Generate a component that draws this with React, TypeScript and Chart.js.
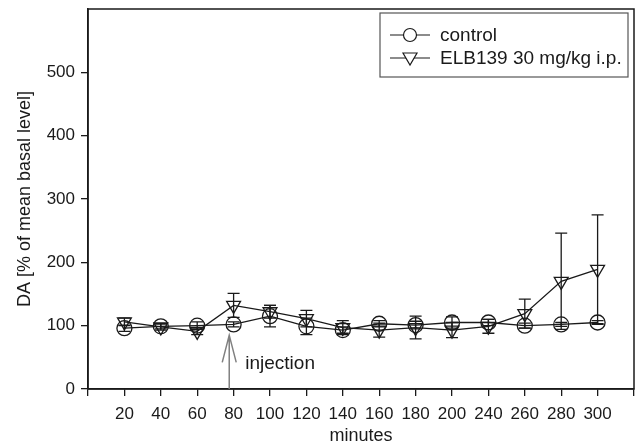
import React, { useEffect, useRef } from "react";
import { Chart, registerables } from "chart.js";

Chart.register(...registerables);

const categories = ["20", "40", "60", "80", "100", "120", "140", "160", "180", "200", "240", "260", "280", "300"];
const controlValues = [96, 99, 100, 102, 115, 99, 93, 103, 101, 105, 105, 100, 102, 105];
const controlErrors = [5, 4, 6, 4, 17, 13, 5, 5, 6, 9, 5, 4, 3, 3];
const elbValues = [106, 98, 91, 132, 122, 111, 97, 93, 97, 93, 99, 119, 170, 189];
const elbErrors = [6, 5, 5, 19, 10, 13, 11, 11, 18, 12, 11, 23, 76, 86];
const yTickValues = [0, 100, 200, 300, 400, 500];
const seriesLabels = ["control", "ELB139 30 mg/kg i.p."];
const injectionIndex = 3.88;
const injectionLabel = "injection";

const FONT = "'Liberation Sans', Arial, Helvetica, sans-serif";
const INK = "#1a1a1a";

const errorBarPlugin = {
  id: "errorBars",
  afterDatasetsDraw(chart: any) {
    const { ctx, scales } = chart;
    const xs = scales.x, ys = scales.y;
    const sets = [
      { v: controlValues, e: controlErrors },
      { v: elbValues, e: elbErrors },
    ];
    ctx.save();
    ctx.strokeStyle = INK;
    ctx.lineWidth = 1.3;
    sets.forEach((s) => {
      s.v.forEach((val, i) => {
        const px = xs.getPixelForValue(i + 1);
        const top = ys.getPixelForValue(val + s.e[i]);
        const bot = ys.getPixelForValue(val - s.e[i]);
        ctx.beginPath();
        ctx.moveTo(px, top);
        ctx.lineTo(px, bot);
        ctx.moveTo(px - 6, top);
        ctx.lineTo(px + 6, top);
        ctx.moveTo(px - 6, bot);
        ctx.lineTo(px + 6, bot);
        ctx.stroke();
      });
    });
    ctx.restore();
  },
};

const framePlugin = {
  id: "frameAndNotes",
  afterDraw(chart: any) {
    const { ctx, chartArea, scales } = chart;
    const xs = scales.x, ys = scales.y;
    ctx.save();
    // frame
    ctx.strokeStyle = INK;
    ctx.lineWidth = 1.5;
    ctx.strokeRect(chartArea.left, chartArea.top, chartArea.right - chartArea.left, chartArea.bottom - chartArea.top);

    // injection arrow
    const ax = xs.getPixelForValue(injectionIndex);
    const aTop = ys.getPixelForValue(85);
    const aBot = ys.getPixelForValue(0);
    const headY = ys.getPixelForValue(42);
    ctx.strokeStyle = "#808080";
    ctx.lineWidth = 1.5;
    ctx.beginPath();
    ctx.moveTo(ax, aBot);
    ctx.lineTo(ax, aTop);
    ctx.moveTo(ax - 7, headY);
    ctx.lineTo(ax, aTop);
    ctx.lineTo(ax + 7, headY);
    ctx.stroke();
    ctx.fillStyle = INK;
    ctx.font = `19px ${FONT}`;
    ctx.textBaseline = "middle";
    ctx.textAlign = "left";
    ctx.fillText(injectionLabel, xs.getPixelForValue(4.32), ys.getPixelForValue(40));

    // legend
    const lw = 248, lh = 64;
    const lx = chartArea.right - 6 - lw;
    const ly = chartArea.top + 4;
    ctx.strokeStyle = "#555";
    ctx.lineWidth = 1.2;
    ctx.strokeRect(lx, ly, lw, lh);
    ctx.font = `19px ${FONT}`;
    ctx.fillStyle = INK;
    ctx.strokeStyle = INK;
    ctx.lineWidth = 1.2;
    const rows = [ly + 22, ly + 45];
    rows.forEach((ry, k) => {
      ctx.beginPath();
      ctx.moveTo(lx + 10, ry);
      ctx.lineTo(lx + 50, ry);
      ctx.stroke();
      const cx = lx + 30;
      ctx.beginPath();
      if (k === 0) {
        ctx.arc(cx, ry, 6.5, 0, Math.PI * 2);
      } else {
        ctx.moveTo(cx - 7, ry - 5);
        ctx.lineTo(cx + 7, ry - 5);
        ctx.lineTo(cx, ry + 7);
        ctx.closePath();
      }
      ctx.fillStyle = "#fff";
      ctx.fill();
      ctx.stroke();
      ctx.fillStyle = INK;
      ctx.fillText(seriesLabels[k], lx + 60, ry + 1);
    });
    ctx.restore();
  },
};

export default function App() {
  const ref = useRef<HTMLCanvasElement | null>(null);
  useEffect(() => {
    if (!ref.current) return;
    const chart = new Chart(ref.current, {
      type: "line",
      data: {
        datasets: [
          {
            label: seriesLabels[0],
            data: controlValues.map((v, i) => ({ x: i + 1, y: v })),
            borderColor: INK,
            borderWidth: 1.3,
            pointStyle: "circle",
            pointRadius: 7.5,
            pointBorderWidth: 1.3,
            pointBorderColor: INK,
            pointBackgroundColor: "rgba(0,0,0,0)",
            tension: 0,
          },
          {
            label: seriesLabels[1],
            data: elbValues.map((v, i) => ({ x: i + 1, y: v })),
            borderColor: INK,
            borderWidth: 1.3,
            pointStyle: "triangle",
            pointRotation: 180,
            pointRadius: 8,
            pointBorderWidth: 1.3,
            pointBorderColor: INK,
            pointBackgroundColor: "rgba(0,0,0,0)",
            tension: 0,
          },
        ],
      },
      options: {
        animation: false,
        responsive: false,
        maintainAspectRatio: false,
        layout: { autoPadding: false, padding: { top: 9, right: 4, left: 0, bottom: 0 } },
        plugins: { legend: { display: false }, tooltip: { enabled: false } },
        scales: {
          x: {
            type: "linear",
            min: 0,
            max: 15,
            afterFit(scale: any) {
              scale.height = 58;
              scale.paddingLeft = 0;
              scale.paddingRight = 0;
            },
            afterBuildTicks(scale: any) {
              scale.ticks = Array.from({ length: 16 }, (_, i) => ({ value: i }));
            },
            ticks: {
              autoSkip: false,
              maxRotation: 0,
              color: INK,
              font: { family: FONT, size: 17 },
              padding: 8,
              callback: (v: any) => categories[Number(v) - 1] ?? "",
            },
            grid: { drawOnChartArea: false, drawTicks: true, tickLength: 7, color: INK, lineWidth: 1.3 },
            border: { color: INK, width: 1.5 },
            title: { display: true, text: "minutes", color: INK, font: { family: FONT, size: 18 }, padding: { top: 2, bottom: 0 } },
          },
          y: {
            type: "linear",
            min: 0,
            max: 600,
            afterFit(scale: any) {
              scale.width = 88;
              scale.paddingTop = 0;
              scale.paddingBottom = 0;
            },
            afterBuildTicks(scale: any) {
              scale.ticks = yTickValues.map((v) => ({ value: v }));
            },
            ticks: { color: INK, font: { family: FONT, size: 17 }, padding: 6 },
            grid: { drawOnChartArea: false, drawTicks: true, tickLength: 7, color: INK, lineWidth: 1.3 },
            border: { color: INK, width: 1.5 },
            title: { display: true, text: "DA [% of mean basal level]", color: INK, font: { family: FONT, size: 18 }, padding: { top: 14, bottom: 4 } },
          },
        },
      } as any,
      plugins: [errorBarPlugin, framePlugin],
    });
    return () => chart.destroy();
  }, []);
  return (
    <div style={{ position: "fixed", left: 0, top: 0, width: 638, height: 447, background: "#fff" }}>
      <canvas ref={ref} width={638} height={447} style={{ display: "block", width: 638, height: 447 }} />
    </div>
  );
}
